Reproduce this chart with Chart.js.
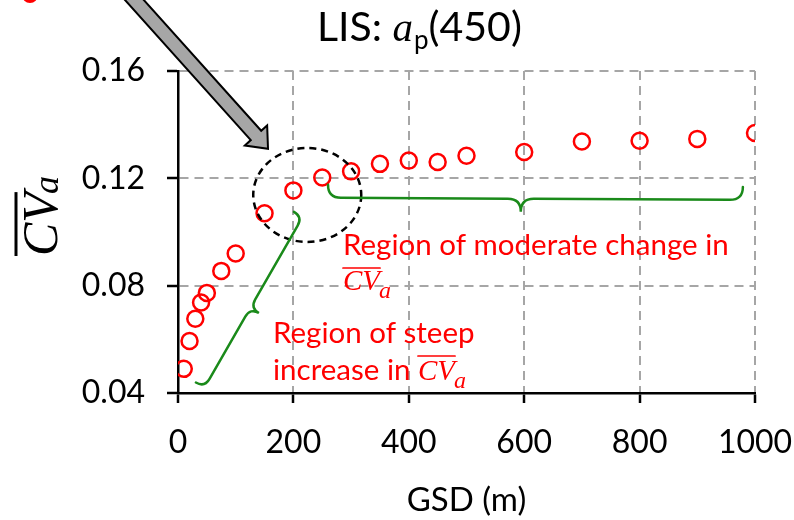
<!DOCTYPE html>
<html>
<head>
<meta charset="utf-8">
<title>LIS: ap(450)</title>
<script src="https://cdn.jsdelivr.net/npm/chart.js@4.4.1/dist/chart.umd.min.js"></script>
<style>
  html, body { margin: 0; padding: 0; background: #fff; }
  canvas { display: block; }
</style>
</head>
<body>
<canvas id="cvChart" width="794" height="520"></canvas>
<script>
// === Datos ===
const gsd = [10, 20, 30, 40, 50, 75, 100, 150, 200, 250, 300, 350, 400, 450, 500, 600, 700, 800, 900, 1000];
const cvA = [0.0490, 0.0594, 0.0677, 0.0737, 0.0773, 0.0855, 0.0920, 0.1070, 0.1155, 0.1203,
             0.1226, 0.1254, 0.1266, 0.1261, 0.1284, 0.1298, 0.1337, 0.1340, 0.1347, 0.1369];
const xTicks = [0, 200, 400, 600, 800, 1000];
const yTicks = [0.04, 0.08, 0.12, 0.16];

// anclas de las anotaciones (en unidades de los ejes)
const ellipseCenter = { x: 224, y: 0.1138 };
const moderateBrace = [{ x: 260, y: 0.1176 }, { x: 979, y: 0.1168 }];
const steepBrace = [{ x: 31, y: 0.0439 }, { x: 201, y: 0.1075 }];
const arrowTip = { x: 156, y: 0.131 };

const RED = '#ff0000';
const GREEN = '#1a8a1a';
const SERIF = '"Liberation Serif", "DejaVu Serif", serif';

// CV con barra encima y subíndice a
function drawCV(ctx, x, y, size, subSize, subDrop, barRise) {
  ctx.font = `italic ${size}px ${SERIF}`;
  ctx.textAlign = 'left';
  ctx.textBaseline = 'alphabetic';
  const w = ctx.measureText('CV').width;
  ctx.fillText('CV', x, y);
  ctx.lineWidth = Math.max(1.6, size * 0.06);
  ctx.beginPath();
  ctx.moveTo(x, y - barRise);
  ctx.lineTo(x + w, y - barRise);
  ctx.stroke();
  ctx.font = `italic ${subSize}px ${SERIF}`;
  ctx.fillText('a', x + w - size * 0.04, y + subDrop);
}

// llave entre dos puntos (en píxeles)
function drawBrace(ctx, a, b, h, t) {
  const L = Math.hypot(b.x - a.x, b.y - a.y);
  const d = { x: (b.x - a.x) / L, y: (b.y - a.y) / L };
  const n = { x: -d.y, y: d.x };
  const P = (s, o) => [a.x + s * d.x + o * n.x, a.y + s * d.y + o * n.y];
  const c = t * L;
  ctx.beginPath();
  ctx.moveTo(...P(0, 0));
  ctx.quadraticCurveTo(...P(0, h), ...P(h, h));
  ctx.lineTo(...P(c - h, h));
  ctx.quadraticCurveTo(...P(c, h), ...P(c, 2 * h));
  ctx.quadraticCurveTo(...P(c, h), ...P(c + h, h));
  ctx.lineTo(...P(L - h, h));
  ctx.quadraticCurveTo(...P(L, h), ...P(L, 0));
  ctx.stroke();
}

const decor = {
  id: 'decor',
  afterDraw(chart) {
    const ctx = chart.ctx;
    const xs = chart.scales.x, ys = chart.scales.y;
    const px = p => ({ x: xs.getPixelForValue(p.x), y: ys.getPixelForValue(p.y) });
    ctx.save();

    // título
    ctx.fillStyle = '#000';
    ctx.textBaseline = 'alphabetic';
    ctx.textAlign = 'left';
    let tx = 317;
    ctx.font = '41px Lato';
    ctx.fillText('LIS: ', tx, 41);
    tx += ctx.measureText('LIS: ').width;
    ctx.font = `italic 41px ${SERIF}`;
    ctx.fillText('a', tx, 41);
    tx += ctx.measureText('a').width + 1;
    ctx.font = '26px Lato';
    ctx.fillText('p', tx, 49);
    tx += ctx.measureText('p').width;
    ctx.font = '41px Lato';
    ctx.fillText('(450)', tx, 41);

    // título del eje y
    ctx.save();
    ctx.translate(57, 256);
    ctx.rotate(-Math.PI / 2);
    ctx.fillStyle = '#000';
    ctx.strokeStyle = '#000';
    drawCV(ctx, 0, 0, 50, 36, 1, 41);
    ctx.restore();

    // marca roja cortada arriba a la izquierda
    ctx.fillStyle = RED;
    ctx.beginPath();
    ctx.ellipse(30, -5, 8, 8, 0, 0, Math.PI * 2);
    ctx.fill();

    // elipse discontinua
    const ec = px(ellipseCenter);
    ctx.strokeStyle = '#000';
    ctx.lineWidth = 2.5;
    ctx.setLineDash([7, 5]);
    ctx.beginPath();
    ctx.ellipse(ec.x, ec.y, 54, 47, 0, 0, Math.PI * 2);
    ctx.stroke();
    ctx.setLineDash([]);

    // llaves verdes
    ctx.strokeStyle = GREEN;
    ctx.lineWidth = 2.5;
    ctx.lineCap = 'round';
    drawBrace(ctx, px(moderateBrace[0]), px(moderateBrace[1]), 13, 0.465);
    drawBrace(ctx, px(steepBrace[0]), px(steepBrace[1]), 10, 0.466);

    // flecha gris
    const tip = px(arrowTip);
    const u = { x: 0.668, y: 0.744 };
    const p = { x: -u.y, y: u.x };
    const w = 7, hw = 15, hl = 18, len = 240;
    const neck = { x: tip.x - hl * u.x, y: tip.y - hl * u.y };
    const tail = { x: tip.x - len * u.x, y: tip.y - len * u.y };
    ctx.beginPath();
    ctx.moveTo(tail.x + w * p.x, tail.y + w * p.y);
    ctx.lineTo(neck.x + w * p.x, neck.y + w * p.y);
    ctx.lineTo(neck.x + hw * p.x, neck.y + hw * p.y);
    ctx.lineTo(tip.x, tip.y);
    ctx.lineTo(neck.x - hw * p.x, neck.y - hw * p.y);
    ctx.lineTo(neck.x - w * p.x, neck.y - w * p.y);
    ctx.lineTo(tail.x - w * p.x, tail.y - w * p.y);
    ctx.closePath();
    ctx.fillStyle = '#a6a6a6';
    ctx.fill();
    ctx.strokeStyle = '#000';
    ctx.lineWidth = 2;
    ctx.lineJoin = 'miter';
    ctx.stroke();

    // textos rojos
    ctx.fillStyle = RED;
    ctx.strokeStyle = RED;
    ctx.font = '29.5px Lato';
    ctx.fillText('Region of moderate change in', 343, 255);
    drawCV(ctx, 343, 290, 29, 24, 8, 22);
    ctx.font = '29.5px Lato';
    ctx.fillText('Region of steep', 273, 343);
    ctx.fillText('increase in ', 273, 380);
    const iw = ctx.measureText('increase in ').width;
    drawCV(ctx, 273 + iw, 380, 29, 24, 8, 24);

    ctx.restore();
  }
};

const gridColor = zero => c => (c.tick && c.tick.value === zero ? 'rgba(0,0,0,0)' : '#a6a6a6');

new Chart(document.getElementById('cvChart'), {
  type: 'scatter',
  data: {
    datasets: [{
      data: gsd.map((x, i) => ({ x, y: cvA[i] })),
      pointStyle: 'circle',
      pointRadius: 8,
      pointBorderWidth: 2.5,
      pointBorderColor: RED,
      pointBackgroundColor: 'rgba(0,0,0,0)',
      showLine: false
    }]
  },
  options: {
    responsive: false,
    animation: false,
    layout: { padding: { top: 71, right: 39, left: 0, bottom: 0 } },
    plugins: {
      legend: { display: false },
      tooltip: { enabled: false }
    },
    scales: {
      x: {
        type: 'linear',
        min: 0,
        max: 1000,
        afterBuildTicks: s => { s.ticks = xTicks.map(v => ({ value: v })); },
        afterFit: s => {
          s.height = 127;
          s.paddingLeft = 0;
          s.paddingRight = 0;
        },
        grid: {
          color: gridColor(0),
          lineWidth: 2,
          tickColor: '#000',
          tickLength: 10,
          tickWidth: 2.5
        },
        border: { color: '#000', width: 2.5, dash: [9, 6] },
        ticks: {
          color: '#000',
          padding: 20,
          maxRotation: 0,
          font: { family: 'Lato', size: 32 },
          callback: v => String(v)
        },
        title: {
          display: true,
          text: 'GSD (m)',
          color: '#000',
          padding: { top: 0, bottom: 0 },
          font: { family: 'Lato', size: 33 }
        }
      },
      y: {
        type: 'linear',
        min: 0.04,
        max: 0.16,
        afterBuildTicks: s => { s.ticks = yTicks.map(v => ({ value: v })); },
        afterFit: s => {
          s.width = 178;
          s.paddingTop = 0;
          s.paddingBottom = 0;
        },
        grid: {
          color: gridColor(0.04),
          lineWidth: 2,
          tickColor: '#000',
          tickLength: 11,
          tickWidth: 2.5
        },
        border: { color: '#000', width: 2.5, dash: [9, 6] },
        ticks: {
          color: '#000',
          padding: 22,
          font: { family: 'Lato', size: 32 },
          callback: v => v.toFixed(2)
        }
      }
    }
  },
  plugins: [decor]
});
</script>
</body>
</html>
